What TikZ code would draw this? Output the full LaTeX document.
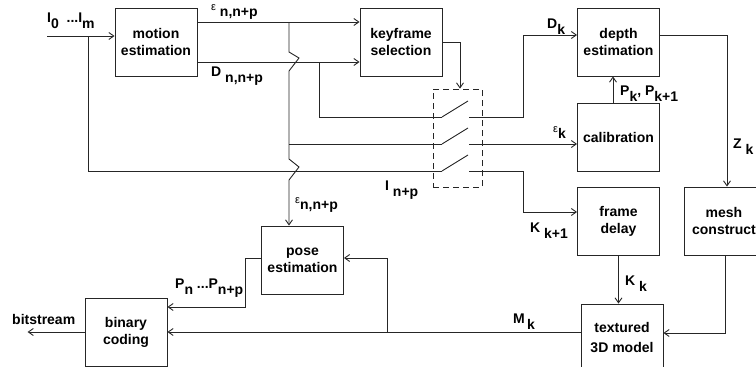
\documentclass[tikz,border=0pt]{standalone}
\usepackage{fontspec}
\setmainfont{Liberation Sans}
\usetikzlibrary{calc,arrows.meta}

\newcommand{\lo}[1]{\raisebox{-0.9ex}{#1}}
\newcommand{\eps}{{\mdseries\fontsize{11}{11}\selectfont ε}}

\tikzset{
  block/.style={draw=black!85, line width=0.9pt, minimum width=82pt,
    minimum height=68pt, align=center, inner sep=0pt,
    font=\fontsize{14}{17}\selectfont\bfseries},
  wire/.style={draw=black!85, line width=0.9pt,
    -{Straight Barb[length=5pt,width=7pt]}},
  line/.style={draw=black!85, line width=0.9pt},
  lbl/.style={font=\fontsize{14}{17}\selectfont\bfseries, inner sep=0pt,
    anchor=base west},
}

\begin{document}
\begin{tikzpicture}[x=1pt,y=1pt]
\useasboundingbox (0,0) rectangle (756,-367);

% processing blocks
\node[block] (me) at (156,-42) {motion\\estimation};
\node[block] (ks) at (401,-42) {keyframe\\selection};
\node[block] (de) at (618.5,-42) {depth\\estimation};
\node[block] (cal) at (618.5,-137) {calibration};
\node[block] (fd) at (618.5,-221) {frame\\delay};
\node[block, minimum width=80pt] (mc) at (724,-221) {mesh\\construct};
\node[block] (pe) at (302.5,-260) {pose\\estimation};
\node[block] (bc) at (126,-332) {binary\\coding};
\node[block] (tm) at (622,-338) {textured\\[3pt]3D model};

% keyframe switch
\node[draw=black!85, dashed, dash pattern=on 6pt off 4pt, line width=0.8pt,
  minimum width=49pt, minimum height=98pt, inner sep=0pt] (sw) at (457.5,-138) {};
\foreach \y/\n in {-117/a,-144/b,-171/c} {
  \coordinate (in\n) at (442,\y);
  \coordinate (out\n) at (469,\y);
  \draw[line] (in\n) -- ++(26,16);
}

% image input
\coordinate (src) at (47,-36);
\coordinate (br) at (88,-36);
\draw[wire] (src) -- (me.west |- src);
\draw[line] (br) |- (inc);

% motion estimation outputs
\draw[wire] ($(me.east)+(0,20)$) -- ($(ks.west)+(0,20)$);
\draw[wire] ($(me.east)+(0,-20)$) -- ($(ks.west)+(0,-20)$);
\coordinate (ja) at (289,-22);
\draw[wire] (ja) -- (289,-52) -- (299,-58) -- (289,-71)
  -- (289,-159) -- (299,-167) -- (289,-180) -- (pe.north -| ja);
\draw[line] (289,-144) -- (inb);
\draw[line] (319,-62) |- (ina);
\draw[wire] (ks.east) -| ($(sw.north)+(2.5,0)$);

% switch outputs
\draw[wire] (outa) -- ++(54,0) |- ($(de.west)+(0,7)$);
\draw[wire] (outb) -- (cal.west |- outb);
\draw[wire] (outc) -- ++(54,0) |- ($(fd.west)+(0,9)$);
\draw[wire] ($(cal.north)+(-5.5,0)$) -- ($(de.south)+(-5.5,0)$);

% model building
\draw[wire] ($(de.east)+(0,7)$) -| ($(mc.north)+(3,0)$);
\draw[wire] ($(mc.south)+(1,0)$) |- ($(tm.east)+(0,5)$);
\draw[wire] (fd.south) -- (tm.north -| fd.south);
\draw[wire] (tm.west |- bc.east) -- (bc.east);
\draw[wire] (387,-332) |- ($(pe.east)+(0,2)$);
\draw[wire] ($(pe.west)+(0,2)$) -- ++(-16,0) |- ($(bc.east)+(0,25)$);
\draw[wire] (bc.west) -- ++(-57,0);

% labels
\node[lbl] (l-in) at (47,-22) {I\lo{0}\ \ ...I\lo{m}};
\node[lbl] (l-eps) at (211,-10) {\eps\ \lo{n,n+p}};
\node[lbl] (l-d) at (211,-76) {D\ \lo{n,n+p}};
\node[lbl] (l-epsp) at (295,-203) {\eps\lo{n,n+p}};
\node[lbl] (l-inp) at (385,-190) {I\ \lo{n+p}};
\node[lbl] (l-dk) at (547,-28) {D\lo{k}};
\node[lbl] (l-epsk) at (553,-132) {\eps\lo{k}};
\node[lbl] (l-kk1) at (530,-232) {K\ \lo{k+1}};
\node[lbl] (l-pk) at (620,-95) {P\lo{k}, P\lo{k+1}};
\node[lbl] (l-zk) at (733,-148) {Z\ \lo{k}};
\node[lbl] (l-kk) at (625,-285) {K\ \lo{k}};
\node[lbl] (l-mk) at (513,-323) {M\,\lo{k}};
\node[lbl] (l-pn) at (175,-288) {P\lo{n}\ ...P\lo{n+p}};
\node[lbl] (l-bits) at (12,-324) {bitstream};

\end{tikzpicture}
\end{document}
